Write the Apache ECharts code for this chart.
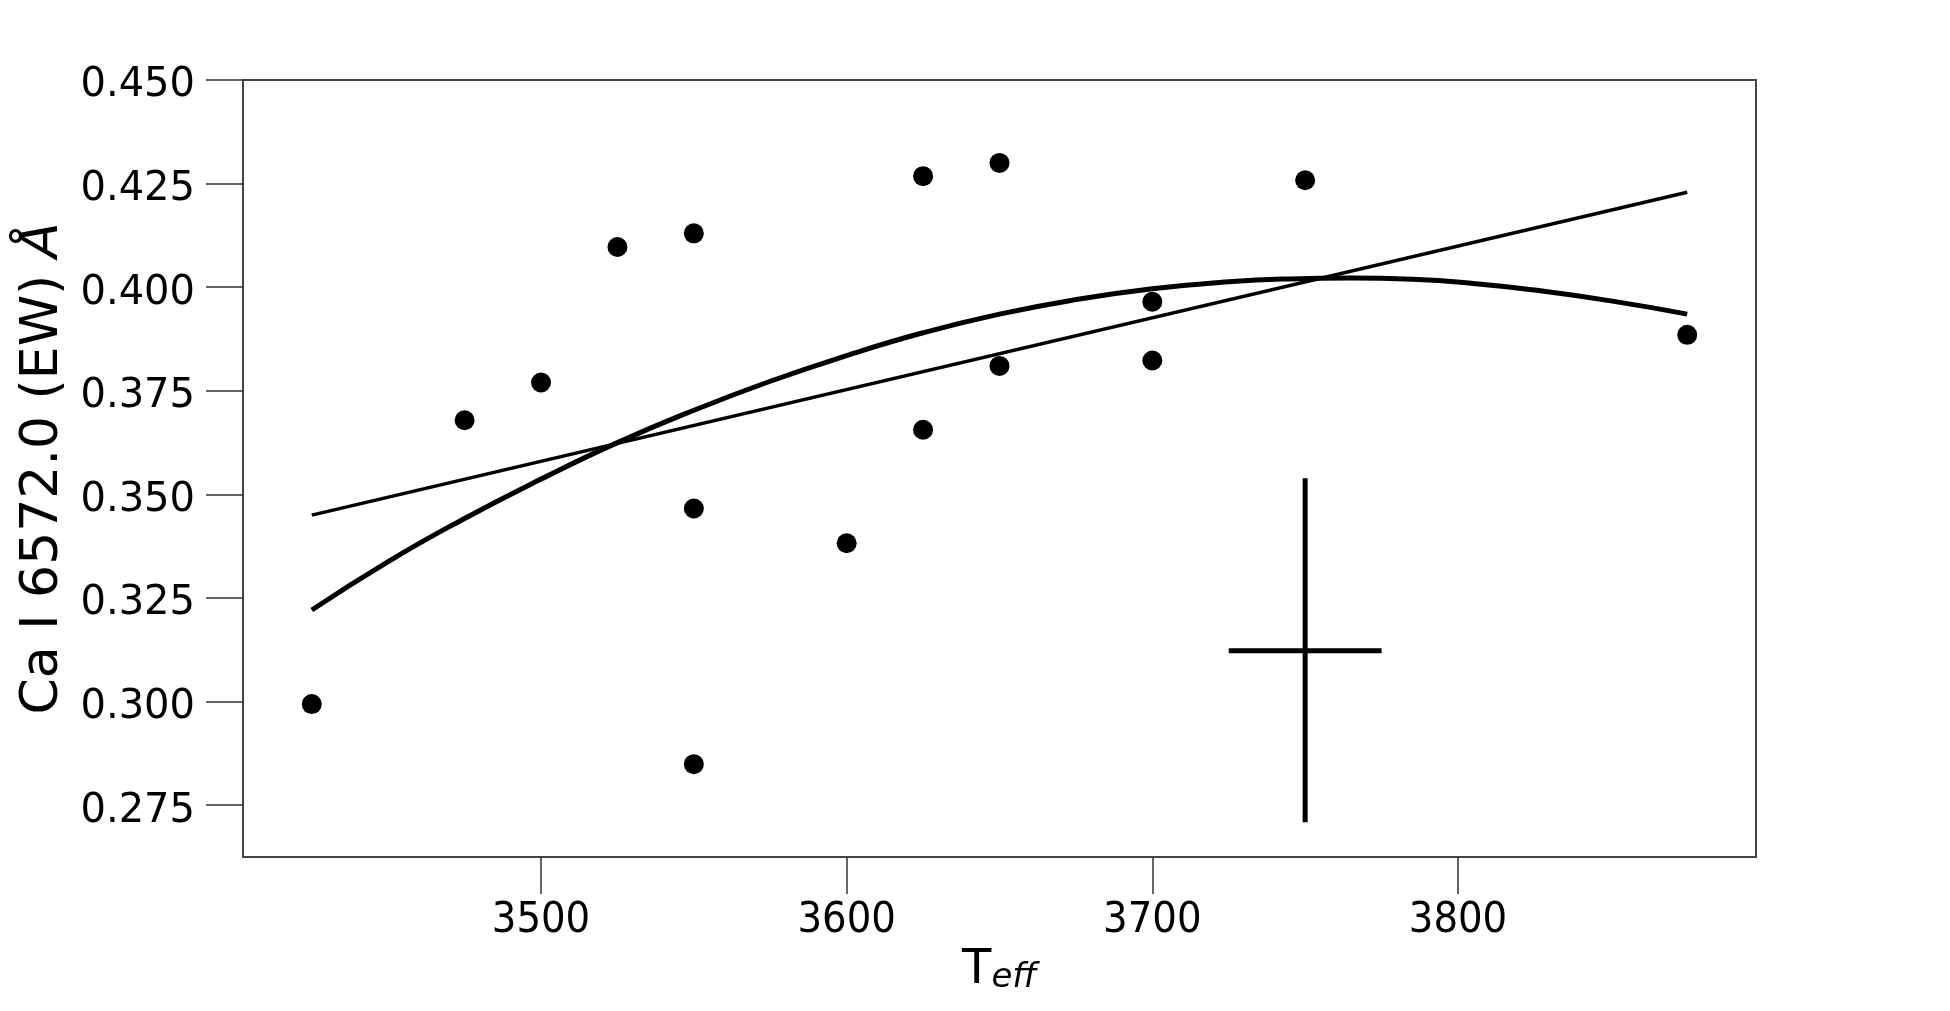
<!DOCTYPE html>
<html>
<head>
<meta charset="utf-8">
<title>Ca I 6572.0 vs Teff</title>
<script src="https://cdn.jsdelivr.net/npm/echarts@6/dist/echarts.min.js"></script>
<style>
  html, body { margin: 0; padding: 0; background: #fff; }
  #chartBox { width: 1950px; height: 1011px; }
</style>
</head>
<body>
<div id="chartBox"></div>
<script>
// 观测点 Teff / EW
var teffPoints = [3425, 3475, 3500, 3525, 3550, 3550, 3550, 3600, 3625, 3625, 3650, 3650, 3700, 3700, 3750, 3875];
var ewPoints = [0.2994, 0.3679, 0.3770, 0.4097, 0.4130, 0.3466, 0.2849, 0.3382, 0.4268, 0.3656, 0.4300, 0.3810, 0.3965, 0.3823, 0.4258, 0.3885];

// 线性拟合 (两个端点)
var linearX = [3425, 3875];
var linearY = [0.3450, 0.4229];

// 二次拟合曲线, 从图上读出 (顶点约在 3765)
var quadX = [3425, 3450, 3475, 3500, 3525, 3550, 3575, 3600, 3625, 3650, 3675, 3700, 3725, 3745, 3765, 3785, 3805, 3825, 3850, 3875];
var quadY = [0.3221, 0.3338, 0.3442, 0.3537, 0.3625, 0.3703, 0.3773, 0.3835, 0.3890, 0.3935, 0.3970, 0.3996, 0.4013, 0.4020, 0.4022, 0.4019, 0.4009, 0.3993, 0.3967, 0.3935];

// 误差棒
var errCenter = [3750, 0.3123];
var errXRange = [3725, 3775];
var errYRange = [0.2709, 0.3539];

// 刻度
var xTicks = [3500, 3600, 3700, 3800];
var yTicks = [0.275, 0.300, 0.325, 0.350, 0.375, 0.400, 0.425, 0.450];

function pairs(xs, ys) {
  var out = [];
  for (var i = 0; i < xs.length; i++) out.push([xs[i], ys[i]]);
  return out;
}

var myChart = echarts.init(document.getElementById('chartBox'), null, { renderer: 'canvas' });

var option = {
  animation: false,
  backgroundColor: '#ffffff',
  grid: {
    left: 243,
    right: 194,
    top: 80,
    bottom: 154,
    show: true,
    borderColor: '#444',
    borderWidth: 2,
    containLabel: false
  },
  xAxis: {
    type: 'value',
    min: 3402.5,
    max: 3897.5,
    name: '{t|T}{s|eff}',
    nameLocation: 'middle',
    nameGap: 87,
    nameTextStyle: {
      rich: {
        t: { fontFamily: 'DejaVu Sans', fontSize: 48, color: '#000', lineHeight: 48, verticalAlign: 'bottom' },
        s: { fontFamily: 'DejaVu Sans', fontSize: 34, fontStyle: 'italic', color: '#000', lineHeight: 26, verticalAlign: 'bottom' }
      }
    },
    splitLine: { show: false },
    axisLine: { show: true, onZero: false, lineStyle: { color: '#444', width: 2 } },
    axisTick: { show: true, length: 37, customValues: xTicks, lineStyle: { color: '#333', width: 1.5 } },
    axisLabel: {
      customValues: xTicks,
      margin: 42,
      fontFamily: 'DejaVu Sans Condensed',
      fontSize: 43,
      color: '#000',
      formatter: function (v) { return String(v); }
    }
  },
  yAxis: {
    type: 'value',
    min: 0.2625,
    max: 0.450,
    name: '{a|Ca I 6572.0 (EW) }{b|Å}',
    nameLocation: 'middle',
    nameGap: 170,
    nameTextStyle: {
      rich: {
        a: { fontFamily: 'DejaVu Sans', fontSize: 52, color: '#000' },
        b: { fontFamily: 'DejaVu Sans', fontSize: 52, fontStyle: 'italic', color: '#000' }
      }
    },
    splitLine: { show: false },
    axisLine: { show: true, onZero: false, lineStyle: { color: '#444', width: 2 } },
    axisTick: { show: true, length: 37, customValues: yTicks, lineStyle: { color: '#333', width: 1.5 } },
    axisLabel: {
      customValues: yTicks,
      margin: 48,
      verticalAlign: 'top',
      lineHeight: 12,
      fontFamily: 'DejaVu Sans',
      fontSize: 40,
      color: '#000',
      formatter: function (v) { return v.toFixed(3); }
    }
  },
  series: [
    {
      name: 'linear',
      type: 'line',
      data: pairs(linearX, linearY),
      symbol: 'none',
      lineStyle: { color: '#000', width: 3.5 }
    },
    {
      name: 'quadratic',
      type: 'line',
      smooth: true,
      data: pairs(quadX, quadY),
      symbol: 'none',
      lineStyle: { color: '#000', width: 5 }
    },
    {
      name: 'points',
      type: 'scatter',
      data: pairs(teffPoints, ewPoints),
      symbol: 'circle',
      symbolSize: 20,
      itemStyle: { color: '#000', opacity: 1 }
    },
    {
      name: 'errX',
      type: 'line',
      data: [[errXRange[0], errCenter[1]], [errXRange[1], errCenter[1]]],
      symbol: 'none',
      lineStyle: { color: '#000', width: 5, cap: 'butt' }
    },
    {
      name: 'errY',
      type: 'line',
      data: [[errCenter[0], errYRange[0]], [errCenter[0], errYRange[1]]],
      symbol: 'none',
      lineStyle: { color: '#000', width: 5, cap: 'butt' }
    }
  ]
};

myChart.setOption(option);
</script>
</body>
</html>
